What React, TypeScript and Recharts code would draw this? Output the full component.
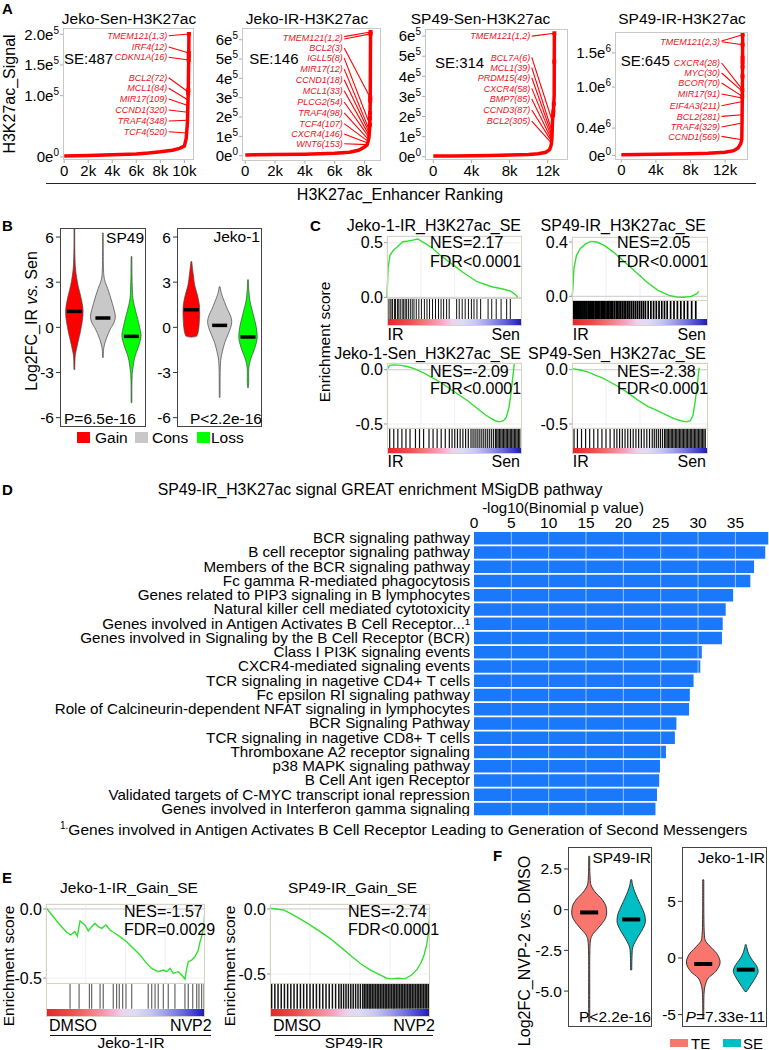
import React from 'react';
import {
  ComposedChart, LineChart, BarChart, ScatterChart, Line, Bar, Scatter,
  XAxis, YAxis, CartesianGrid, ReferenceLine,
} from 'recharts';

const FONT = '"Liberation Sans", Arial, Helvetica, sans-serif';
const RED = '#ff0000';
const LABEL_RED = '#e8141c';

// ---------- A: H3K27ac enhancer ranking (rank, signal) ----------
const jekoSenRank = [0, 2000, 4000, 6000, 7000, 8000, 9000, 9600, 10000, 10150, 10250, 10320, 10360, 10380];
const jekoSenSignal = [1500, 2500, 3500, 5000, 6500, 8500, 11000, 14000, 18000, 30000, 55000, 105000, 160000, 200000];
const jekoSenDotRank = [10380, 10365, 10362, 10359, 10323, 10319];
const jekoSenDotSignal = [200500, 169500, 164600, 158100, 109200, 104300];
const jekoSenGenes = ['TMEM121(1,3)', 'IRF4(12)', 'CDKN1A(16)', 'BCL2(72)', 'MCL1(84)', 'MIR17(109)', 'CCND1(320)', 'TRAF4(348)', 'TCF4(520)'];
const jekoSenGeneY = [197700, 179300, 162500, 129300, 112000, 94500, 76600, 58700, 41200];
const jekoSenLeadFrom = [197700, 179300, 162500, 129300, 112000, 94500, 76600, 58700, 41200];
const jekoSenLeadRank = [10380, 10365, 10359, 10321, 10303, 10291, 10275, 10257, 10186];
const jekoSenLeadSignal = [200500, 169500, 158100, 106000, 93000, 84000, 73000, 60000, 39000];

const jekoIrRank = [0, 2000, 4000, 6000, 7000, 7600, 8000, 8180, 8245, 8305, 8364, 8390, 8400, 8410];
const jekoIrSignal = [4000, 6000, 8000, 12000, 18000, 28000, 45000, 57000, 74000, 95000, 160000, 300000, 500000, 640000];
const jekoIrDotRank = [8410, 8405, 8390, 8387, 8375, 8370, 8364];
const jekoIrDotSignal = [640000, 630000, 300000, 285000, 220000, 195000, 160000];
const jekoIrGenes = ['TMEM121(1,2)', 'BCL2(3)', 'IGLL5(8)', 'MIR17(12)', 'CCND1(18)', 'MCL1(33)', 'PLCG2(54)', 'TRAF4(98)', 'TCF4(107)', 'CXCR4(146)', 'WNT6(153)'];
const jekoIrGeneY = [612000, 557000, 505000, 448000, 393000, 336000, 278000, 221000, 166000, 112000, 62000];
const jekoIrLeadFrom = [616000, 604000, 557000, 505000, 448000, 393000, 336000, 278000, 221000, 166000, 112000, 62000];
const jekoIrLeadRank = [8410, 8405, 8390, 8364, 8347, 8332, 8318, 8305, 8275, 8245, 8220, 8180];
const jekoIrLeadSignal = [640000, 630000, 300000, 160000, 129000, 117000, 105000, 95000, 83000, 74000, 66000, 57000];

const sp49SenRank = [0, 2000, 4000, 6000, 8000, 10000, 11000, 11800, 12200, 12350, 12420, 12460, 12500, 12600, 12680, 12700];
const sp49SenSignal = [3000, 4000, 5000, 6500, 8000, 11000, 15000, 22000, 35000, 55000, 75000, 110000, 175000, 230000, 300000, 614000];
const sp49SenDotRank = [12700, 12691, 12637, 12590, 12565];
const sp49SenDotSignal = [614000, 473000, 262000, 224000, 207000];
const sp49SenGenes = ['TMEM121(1,2)', 'BCL7A(6)', 'MCL1(39)', 'PRDM15(49)', 'CXCR4(58)', 'BMP7(85)', 'CCND3(87)', 'BCL2(305)'];
const sp49SenGeneY = [600000, 494000, 443000, 393000, 340000, 287000, 232000, 177000];
const sp49SenLeadFrom = [600000, 494000, 443000, 393000, 340000, 287000, 232000, 177000];
const sp49SenLeadRank = [12700, 12500, 12470, 12450, 12440, 12430, 12420, 12400];
const sp49SenLeadSignal = [614000, 174000, 124000, 108000, 95000, 83000, 75000, 67000];

const sp49IrRank = [0, 2000, 4000, 6000, 8000, 10000, 12000, 13000, 13500, 13800, 13930, 13960, 13985, 14000, 14020, 14030];
const sp49IrSignal = [8000, 12000, 16000, 20000, 25000, 32000, 45000, 70000, 110000, 170000, 228000, 474000, 790000, 950000, 1300000, 1767000];
const sp49IrDotRank = [14030, 14027, 14022, 14021, 14020, 14013, 14000, 13992];
const sp49IrDotSignal = [1767000, 1620000, 1430000, 1370000, 1300000, 1157000, 960000, 864000];
const sp49IrGenes = ['TMEM121(2,3)', 'CXCR4(28)', 'MYC(30)', 'BCOR(70)', 'MIR17(91)', 'EIF4A3(211)', 'BCL2(281)', 'TRAF4(329)', 'CCND1(569)'];
const sp49IrGeneY = [1669000, 1353000, 1206000, 1060000, 899000, 728000, 571000, 416000, 278000];
const sp49IrLeadFrom = [1675000, 1663000, 1353000, 1206000, 1060000, 899000, 728000, 571000, 416000, 278000];
const sp49IrLeadRank = [14030, 14027, 14000, 14000, 13992, 13990, 13987, 13976, 13962, 13935];
const sp49IrLeadSignal = [1767000, 1620000, 962000, 937000, 864000, 840000, 790000, 596000, 474000, 228000];

// ---------- B: log2FC IR vs Sen violins ----------
const bGroups = ['Gain', 'Cons', 'Loss'];
const bColors = ['#ff0000', '#c8c8c8', '#00ff00'];
const sp49GainV = [6.6, 5.5, 4.5, 3.8, 3.3, 2.8, 2.2, 1.6, 1.1, 0.6, 0.1, -0.4, -0.9, -1.3, -1.7, -2.1, -2.8];
const sp49GainW = [0.03, 0.03, 0.05, 0.1, 0.18, 0.28, 0.45, 0.6, 0.67, 0.64, 0.55, 0.44, 0.3, 0.2, 0.1, 0.05, 0.03];
const sp49ConsV = [6.27, 5, 4, 3.4, 3.0, 2.6, 2.1, 1.6, 1.1, 0.7, 0.3, 0, -0.4, -0.9, -1.3, -1.6, -2.0];
const sp49ConsW = [0.03, 0.03, 0.04, 0.08, 0.18, 0.36, 0.55, 0.72, 0.88, 0.96, 0.85, 0.64, 0.42, 0.2, 0.08, 0.04, 0.03];
const sp49LossV = [4.7, 3.5, 2.5, 1.8, 1.1, 0.5, 0.2, -0.2, -0.6, -1.1, -1.5, -1.8, -2.2, -2.6, -3.0, -3.3, -4.0, -5.0];
const sp49LossW = [0.03, 0.04, 0.07, 0.13, 0.32, 0.5, 0.58, 0.68, 0.74, 0.6, 0.45, 0.32, 0.2, 0.13, 0.07, 0.05, 0.03, 0.03];
const sp49Medians = [1.06, 0.62, -0.6];
const jekoGainV = [4.37, 4.0, 3.5, 2.8, 2.2, 1.6, 1.1, 0.5, 0.0, -0.4, -0.6, -0.65];
const jekoGainW = [0.03, 0.08, 0.15, 0.26, 0.45, 0.6, 0.64, 0.62, 0.58, 0.5, 0.38, 0.0];
const jekoConsV = [2.7, 2.2, 1.72, 1.2, 0.8, 0.4, 0, -0.48, -1.0, -1.6, -2.2, -3.0, -4.0, -4.65];
const jekoConsW = [0.03, 0.15, 0.36, 0.6, 0.82, 0.93, 0.85, 0.64, 0.4, 0.21, 0.08, 0.04, 0.03, 0.03];
const jekoLossV = [3.16, 2.5, 1.8, 1.28, 0.6, 0, -0.64, -1.1, -1.6, -2.0, -2.47, -3.0, -3.6, -4.0];
const jekoLossW = [0.03, 0.06, 0.14, 0.28, 0.48, 0.64, 0.71, 0.62, 0.43, 0.25, 0.1, 0.05, 0.06, 0.03];
const jekoMedians = [1.17, 0.13, -0.64];
const bTicks = [-6, -3, 0, 3, 6];
const bTickLabels = ['-6', '-3', '0', '3', '6'];

// ---------- C / E: GSEA running enrichment scores (rank %, ES) ----------
const jekoIrEsX = [0, 0.8, 2.2, 4.9, 7.7, 11.7, 15.8, 19.9, 22.7, 28.1, 33.6, 39.1, 47.3, 55.5, 66.4, 77.3, 85.5, 91.0, 95.1, 96.4];
const jekoIrEsY = [0, 0.266, 0.387, 0.433, 0.463, 0.509, 0.515, 0.525, 0.534, 0.494, 0.449, 0.387, 0.311, 0.234, 0.143, 0.097, 0.076, 0.058, 0.021, 0];
const jekoIrHits = [0.8, 2.2, 3.0, 4.1, 5.5, 6.3, 7.7, 8.7, 9.8, 11.2, 12.3, 13.4, 14.5, 15.8, 17.2, 18.6, 19.9, 21.6, 23.5, 25.4, 27.6, 29.5, 31.4, 33.6, 35.8, 38.0, 39.9, 41.8, 44.0, 45.9, 51.4, 53.3, 55.5, 57.7, 60.1, 62.3, 64.2, 66.4, 69.1, 74.6, 77.3, 80.6, 84.2, 88.3, 91.0];

const sp49IrEsX = [0, 0.5, 1.4, 3.3, 6.0, 10.1, 14.2, 18.3, 23.7, 30.5, 38.7, 46.9, 55.0, 63.2, 71.4, 76.8, 82.3, 87.7, 91.8, 93.2];
const sp49IrEsY = [0, 0.032, 0.204, 0.302, 0.351, 0.388, 0.405, 0.4, 0.375, 0.326, 0.253, 0.179, 0.106, 0.044, 0.007, -0.005, -0.007, 0, 0.02, 0.037];
const sp49IrHits = [0.5, 1.2, 2, 2.8, 3.5, 4.1, 5, 5.8, 6.5, 7.3, 8, 8.8, 9.5, 10.3, 11, 12, 12.8, 13.6, 14.5, 15.3, 16, 17, 18, 18.8, 19.6, 20.5, 21.5, 22.4, 23.2, 24, 25, 26, 27, 28, 29, 30, 31.2, 32.5, 33.5, 34.6, 35.8, 37, 38.3, 39.5, 40.8, 42, 43.5, 45, 46.5, 48, 49.5, 51, 52.5, 54, 56, 58, 60, 62, 64, 66, 68, 70, 72.5, 75, 77.5, 80, 82.5, 85, 88, 91];

const jekoSenEsX = [0, 2, 5, 10, 15, 20, 27, 33, 40, 47, 54, 60, 66, 72, 77, 80, 83, 86, 88, 90, 91.5, 93, 94];
const jekoSenEsY = [0, 0.04, 0.045, 0.04, 0.03, 0.01, -0.03, -0.07, -0.12, -0.18, -0.24, -0.29, -0.35, -0.41, -0.45, -0.47, -0.48, -0.47, -0.44, -0.35, -0.22, -0.05, 0.06];
const jekoSenHits = [2, 5, 8, 11, 14, 17, 21, 24, 27, 31, 34, 37, 40, 43, 46, 48, 50, 52, 54, 56, 58, 60, 62, 63.5, 65, 66.5, 68, 69.5, 71, 72.5, 74, 75.5, 77, 78.5, 80, 81, 82, 83, 84, 85, 86, 87, 88, 89, 90, 91, 92, 93, 94, 95, 96, 97, 98];

const sp49SenEsX = [0, 5, 11.5, 17, 22.4, 29, 36, 43, 49.6, 56, 63.2, 70, 75, 80, 84, 87, 89, 90.5, 92, 93.5];
const sp49SenEsY = [0.01, 0, -0.02, -0.05, -0.075, -0.12, -0.17, -0.23, -0.29, -0.34, -0.38, -0.42, -0.45, -0.47, -0.48, -0.47, -0.42, -0.3, -0.15, 0.02];
const sp49SenHits = [1.5, 4, 7, 10, 13, 16, 19, 22, 25, 28, 31, 33, 35, 37, 39, 41, 43, 45, 47, 49, 51, 53, 55, 57, 59, 60.5, 62, 63.5, 65, 66.5, 68, 69, 70, 71, 72, 73, 74, 75, 76, 77, 78, 79, 80, 81, 82, 83, 84, 85, 86, 87, 88, 89, 90, 91, 92, 93, 94, 95, 96, 97, 98];

const jekoGainEsX = [0, 0.4, 4.6, 8.8, 13.0, 15.5, 18.2, 19.7, 21.4, 24.5, 26.6, 28.7, 30.8, 32.9, 35.0, 37.7, 40.3, 43.4, 46.5, 50.7, 54.9, 59.1, 63.3, 66.5, 68.6, 70.6, 73.8, 75.9, 78.0, 80.1, 83.2, 85.3, 87.4, 88.5, 89.5, 91.6, 93.7, 95.8, 96.9, 97.9, 99.4, 100];
const jekoGainEsY = [0, 0.005, -0.056, -0.116, -0.169, -0.188, -0.164, -0.196, -0.087, -0.116, -0.159, -0.128, -0.104, -0.128, -0.14, -0.116, -0.152, -0.176, -0.2, -0.237, -0.285, -0.333, -0.394, -0.43, -0.442, -0.454, -0.442, -0.454, -0.43, -0.466, -0.454, -0.478, -0.507, -0.43, -0.382, -0.37, -0.346, -0.297, -0.237, -0.2, -0.116, 0.017];
const jekoGainHits = [15.1, 20.8, 27.3, 28.7, 34, 36, 42.3, 44.4, 46.1, 48.2, 50.3, 53.9, 64.3, 66.5, 68.6, 70.6, 73.8, 76.9, 81.1, 87.4, 89.5, 92.3, 94.8, 96.2, 97.9, 99.4];

const sp49GainEsX = [0, 0.4, 4.2, 8.3, 12.5, 18.8, 25, 31.3, 37.5, 43.8, 50, 56.3, 62.5, 68.8, 72.9, 76, 80.2, 84.4, 88.5, 91.7, 94.2, 96.3, 97.9, 99.2, 100];
const sp49GainEsY = [0, 0.005, 0, -0.008, -0.033, -0.077, -0.123, -0.174, -0.226, -0.29, -0.354, -0.418, -0.469, -0.508, -0.533, -0.538, -0.533, -0.538, -0.508, -0.469, -0.418, -0.354, -0.277, -0.174, 0.005];
const sp49GainHits = [1, 3, 5, 7, 9, 11, 13, 15, 17, 19, 21, 23, 25, 27, 29, 31, 33, 35, 37, 39, 41, 43, 44.5, 46, 47.5, 49, 50.5, 52, 53.5, 55, 56.5, 58, 59, 60, 61, 62, 63, 64, 65, 66, 67, 68, 69, 70, 71, 72, 73, 74, 75, 76, 77, 78, 79, 80, 81, 82, 83, 84, 85, 86, 87, 88, 89, 90, 91, 92, 93, 94, 95, 96, 97, 98, 99];

// ---------- D: GREAT MSigDB pathways ----------
const dPathways = [
  'BCR signaling pathway',
  'B cell receptor signaling pathway',
  'Members of the BCR signaling pathway',
  'Fc gamma R-mediated phagocytosis',
  'Genes related to PIP3 signaling in B lymphocytes',
  'Natural killer cell mediated cytotoxicity',
  'Genes involved in Antigen Activates B Cell Receptor...\u00b9',
  'Genes involved in Signaling by the B Cell Receptor (BCR)',
  'Class I PI3K signaling events',
  'CXCR4-mediated signaling events',
  'TCR signaling in nagetive CD4+ T cells',
  'Fc epsilon RI signaling pathway',
  'Role of Calcineurin-dependent NFAT signaling in lymphocytes',
  'BCR Signaling Pathway',
  'TCR signaling in nagetive CD8+ T cells',
  'Thromboxane A2 receptor signaling',
  'p38 MAPK signaling pathway',
  'B Cell Ant igen Receptor',
  'Validated targets of C-MYC transcript ional repression',
  'Genes involved in Interferon gamma signaling',
];
const dLog10P = [39.4, 39.0, 37.5, 37.0, 34.7, 33.7, 33.3, 33.2, 30.5, 30.3, 29.4, 28.9, 28.8, 27.1, 26.9, 25.7, 24.9, 24.8, 24.5, 24.3];
const dTicks = [0, 5, 10, 15, 20, 25, 30, 35];

// ---------- F: log2FC NVP-2 vs DMSO violins ----------
const fGroups = ['TE', 'SE'];
const fColors = ['#F8766D', '#00BFC4'];
const fSp49TeV = [3.28, 2.5, 2.0, 1.6, 1.33, 1.0, 0.72, 0.45, 0.2, -0.2, -0.5, -0.72, -1.0, -1.23, -1.45, -1.64, -2.0, -3.0, -5.0, -6.9];
const fSp49TeW = [0.03, 0.03, 0.05, 0.08, 0.18, 0.4, 0.67, 0.85, 0.96, 1.0, 0.94, 0.82, 0.62, 0.43, 0.25, 0.14, 0.06, 0.03, 0.03, 0.03];
const fSp49SeV = [1.84, 1.5, 1.13, 0.7, 0.31, 0, -0.31, -0.72, -1.0, -1.33, -1.65, -1.95, -2.36, -3.0, -3.7];
const fSp49SeW = [0.03, 0.08, 0.19, 0.36, 0.53, 0.66, 0.77, 0.81, 0.74, 0.58, 0.4, 0.24, 0.08, 0.04, 0.03];
const fSp49Medians = [-0.17, -0.6];
const fJekoTeV = [6.9, 5, 3, 2, 1.47, 0.88, 0.29, -0.44, -1.18, -1.77, -2.36, -3, -4, -5.3];
const fJekoTeW = [0.03, 0.03, 0.04, 0.07, 0.14, 0.48, 0.82, 0.96, 0.72, 0.29, 0.12, 0.05, 0.03, 0.03];
const fJekoSeV = [1.17, 0.8, 0.4, 0, -0.4, -0.74, -1.18, -1.55, -1.92, -2.5, -2.95];
const fJekoSeW = [0.03, 0.08, 0.16, 0.29, 0.48, 0.63, 0.71, 0.62, 0.48, 0.24, 0.05];
const fJekoMedians = [-0.53, -1.03];
const fSp49Ticks = [-5, -2.5, 0, 2.5];
const fSp49TickLabels = ['-5.0', '-2.5', '0', '2.5'];
const fJekoTicks = [-5, 0, 5];
const fJekoTickLabels = ['-5', '0', '5'];

// ---------- helpers ----------
function Txt({ x, y, anchor = 'start', size = 15.5, bold = false, italic = false, color = '#000', children }: any) {
  const tx = anchor === 'middle' ? '-50%' : anchor === 'end' ? '-100%' : '0';
  return (
    <div style={{
      position: 'absolute', left: x, top: y, transform: `translate(${tx}, -50%)`,
      fontSize: size, lineHeight: 1, whiteSpace: 'nowrap', fontWeight: bold ? 700 : 400,
      fontStyle: italic ? 'italic' : 'normal', color,
    }}>{children}</div>
  );
}

function VTxt({ x, y, size = 15.5, children }: any) {
  return (
    <div style={{
      position: 'absolute', left: x, top: y, transform: 'translate(-50%, -50%) rotate(-90deg)',
      fontSize: size, lineHeight: 1, whiteSpace: 'nowrap',
    }}>{children}</div>
  );
}

function SciTick({ x, y, payload, labels, ticks }: any) {
  const s = labels[ticks.indexOf(payload.value)] || '';
  const [base, exp] = s.split('e');
  return (
    <text x={x} y={y} textAnchor="end" fontSize={15} fill="#000">
      <tspan dy="0.35em">{base}e</tspan>
      <tspan dy="-0.6em" fontSize={10}>{exp}</tspan>
    </text>
  );
}

function RankPlot(p: any) {
  const yw = 52, xh = 26, mt = 14, mr = 16;
  const w = p.box.r - p.box.l, h = p.box.b - p.box.t;
  const curve = p.rank.map((x: number, i: number) => ({ x, y: p.signal[i] }));
  const dots = p.dotRank.map((x: number, i: number) => ({ x, y: p.dotSignal[i] }));
  const labels = p.genes.map((g: string, i: number) => ({ x: p.labelRank, y: p.geneY[i], g }));
  return (
    <div style={{ position: 'absolute', left: p.box.l - yw, top: p.box.t - mt }}>
      <ComposedChart width={yw + w + mr} height={mt + h + xh} margin={{ top: mt, right: mr, bottom: 0, left: 0 }}>
        <XAxis type="number" dataKey="x" domain={p.xDomain} ticks={p.xTicks} interval={0} allowDataOverflow
          height={xh} axisLine={false} tickSize={3} tickMargin={2} stroke="#aaa"
          tickFormatter={(v: number) => p.xLabels[p.xTicks.indexOf(v)]} tick={{ fontSize: 15, fill: '#000' }} />
        <YAxis type="number" dataKey="y" domain={p.yDomain} ticks={p.yTicks} interval={0} allowDataOverflow
          width={yw} axisLine={false} tickSize={3} tickMargin={1} stroke="#aaa"
          tick={(tp: any) => <SciTick {...tp} labels={p.yLabels} ticks={p.yTicks} />} />
        <Line data={curve} dataKey="y" type="linear" stroke={RED} strokeWidth={3.5} dot={false} isAnimationActive={false} />
        {p.leadFrom.map((fy: number, i: number) => (
          <ReferenceLine key={i} segment={[{ x: p.labelRank, y: fy }, { x: p.leadRank[i], y: p.leadSignal[i] }]}
            stroke={RED} strokeWidth={1.1} />
        ))}
        <Scatter data={dots} isAnimationActive={false}
          shape={(s: any) => <rect x={s.cx - 2} y={s.cy - 2} width={4} height={4} fill={RED} />} />
        <Scatter data={labels} isAnimationActive={false}
          shape={(s: any) => (
            <text x={s.cx - 1.5} y={s.cy} dy="0.35em" textAnchor="end" fontSize={9} fontStyle="italic" fill={LABEL_RED}>
              {s.payload.g}
            </text>
          )} />
      </ComposedChart>
      <div style={{ position: 'absolute', left: yw, top: mt, width: w, height: h, border: '1px solid #c8c8c8', boxSizing: 'border-box' }} />
    </div>
  );
}

function splinePath(p: number[][], start: string) {
  let d = `${start}${p[0][0].toFixed(2)},${p[0][1].toFixed(2)}`;
  for (let i = 0; i < p.length - 1; i++) {
    const p0 = p[i - 1] || p[i], p1 = p[i], p2 = p[i + 1], p3 = p[i + 2] || p2;
    const c1x = p1[0] + (p2[0] - p0[0]) / 6, c1y = p1[1] + (p2[1] - p0[1]) / 6;
    const c2x = p2[0] - (p3[0] - p1[0]) / 6, c2y = p2[1] - (p3[1] - p1[1]) / 6;
    d += ` C${c1x.toFixed(2)},${c1y.toFixed(2)} ${c2x.toFixed(2)},${c2y.toFixed(2)} ${p2[0].toFixed(2)},${p2[1].toFixed(2)}`;
  }
  return d;
}

function ViolinPanel(p: any) {
  const yw = p.yw, mt = 10;
  const data = p.groups.map((g: string, i: number) => ({
    g, range: [Math.min(...p.vals[i]), Math.max(...p.vals[i])],
    v: p.vals[i], w: p.wids[i], med: p.medians[i], color: p.colors[i],
  }));
  const shape = (s: any) => {
    const d = s.payload;
    const top0 = Math.min(s.y, s.y + s.height), h = Math.abs(s.height);
    const [lo, hi] = d.range;
    const toY = (v: number) => top0 + ((hi - v) / (hi - lo)) * h;
    const cx = s.x + s.width / 2;
    const left = d.v.map((v: number, i: number) => [cx - d.w[i] * p.maxHalf, toY(v)]);
    const right = d.v.map((v: number, i: number) => [cx + d.w[i] * p.maxHalf, toY(v)]).reverse();
    const path = splinePath(left, 'M') + ' L' + right[0][0] + ',' + right[0][1] + splinePath(right, ' L').replace(/^ L[^ ]+/, '') + ' Z';
    const my = toY(d.med);
    return (
      <g>
        <path d={path} fill={d.color} stroke={p.outline} strokeWidth={p.outlineW} />
        <rect x={cx - p.medW / 2} y={my - p.medH / 2} width={p.medW} height={p.medH} fill="#000" />
      </g>
    );
  };
  return (
    <div style={{ position: 'absolute', left: p.left - yw, top: p.top - mt }}>
      <BarChart width={yw + p.width} height={p.height + 2 * mt} data={data} margin={{ top: mt, right: 0, bottom: mt, left: 0 }}>
        <XAxis dataKey="g" type="category" hide />
        <YAxis type="number" domain={p.yDomain} ticks={p.yTicks} interval={0} allowDataOverflow width={yw}
          axisLine={false} tickSize={4} tickMargin={2} stroke="#333"
          tick={{ fontSize: 15.5, fill: '#000' }} tickFormatter={(v: number) => p.yLabels[p.yTicks.indexOf(v)]} />
        <Bar dataKey="range" shape={shape} isAnimationActive={false} />
      </BarChart>
      <div style={{ position: 'absolute', left: yw, top: mt, width: p.width, height: p.height, border: '1px solid #444', boxSizing: 'border-box' }} />
    </div>
  );
}

const GRADIENT = 'linear-gradient(to right, #e8262a 0%, #ee4a4c 15%, #f27c7e 28%, #f5a6c8 40%, #eed2ee 48%, #dcdcf6 56%, #c6c6f2 66%, #9c9ce8 76%, #6b6bdc 86%, #3a3acb 95%, #1c1cae 100%)';

function Gsea(p: any) {
  const yw = 40, mt = 10, mb = 10;
  const es = p.esX.map((x: number, i: number) => ({ x, y: p.esY[i] }));
  const hits = p.hits.map((x: number) => ({ x, y: 0.5 }));
  const total = p.esH + p.hitH + p.colH;
  return (
    <>
      <div style={{ position: 'absolute', left: p.left - yw, top: p.top - mt }}>
        <LineChart width={yw + p.width} height={mt + p.esH + mb} margin={{ top: mt, right: 0, bottom: mb, left: 0 }}>
          <CartesianGrid stroke="#efefef" />
          <XAxis type="number" dataKey="x" domain={[0, 100]} hide />
          <YAxis type="number" domain={p.yDomain} ticks={p.yTicks} interval={0} allowDataOverflow width={yw}
            axisLine={false} tickSize={3} tickMargin={1} stroke="#999"
            tick={{ fontSize: 16, fill: '#000' }} tickFormatter={(v: number) => v.toFixed(1)} />
          <ReferenceLine y={0} stroke="#cfcfcf" />
          <Line data={es} dataKey="y" type="linear" stroke="#30e030" strokeWidth={1.4} dot={false} isAnimationActive={false} />
        </LineChart>
      </div>
      <div style={{ position: 'absolute', left: p.left, top: p.top + p.esH, width: p.width, height: 1, background: '#d6d3c4' }} />
      <div style={{ position: 'absolute', left: p.left, top: p.top + p.esH }}>
        <ScatterChart width={p.width} height={p.hitH} margin={{ top: 0, right: 0, bottom: 0, left: 0 }}>
          <XAxis type="number" dataKey="x" domain={[0, 100]} hide />
          <YAxis type="number" dataKey="y" domain={[0, 1]} hide />
          <Scatter data={hits} isAnimationActive={false}
            shape={(s: any) => <line x1={s.cx} x2={s.cx} y1={1} y2={p.hitH} stroke={p.hitColor} strokeWidth={p.hitWidth} />} />
        </ScatterChart>
      </div>
      <div style={{ position: 'absolute', left: p.left + 1, top: p.top + p.esH + p.hitH, width: p.width - 2, height: p.colH, background: GRADIENT }} />
      <div style={{ position: 'absolute', left: p.left, top: p.top, width: p.width, height: total, border: '1px solid #d6d3c4', boxSizing: 'border-box' }} />
    </>
  );
}

const dData = dPathways.map((name, i) => ({ name, value: dLog10P[i] }));

export default function App() {
  const vs = <span style={{ fontStyle: 'italic' }}>vs.</span>;
  return (
    <div style={{ position: 'absolute', left: 0, top: 0, width: 769, height: 1050, background: '#fff', fontFamily: FONT, color: '#000', overflow: 'hidden' }}>
      {/* ---------------- A ---------------- */}
      <Txt x={2} y={8} size={15} bold>A</Txt>
      <Txt x={129} y={19} anchor="middle">Jeko-Sen-H3K27ac</Txt>
      <Txt x={307} y={19} anchor="middle">Jeko-IR-H3K27ac</Txt>
      <Txt x={480.5} y={19} anchor="middle">SP49-Sen-H3K27ac</Txt>
      <Txt x={682} y={19} anchor="middle">SP49-IR-H3K27ac</Txt>
      <VTxt x={10} y={94} size={16}>H3K27ac_Signal</VTxt>

      <RankPlot box={{ l: 63, t: 28, r: 194, b: 160 }} xDomain={[-100, 10800]} yDomain={[-4900, 210300]}
        xTicks={[0, 2000, 4000, 6000, 8000, 10000]} xLabels={['0', '2k', '4k', '6k', '8k', '10k']}
        yTicks={[0, 100000, 150000, 200000]} yLabels={['0e0', '1.0e5', '1.5e5', '2.0e5']}
        rank={jekoSenRank} signal={jekoSenSignal} dotRank={jekoSenDotRank} dotSignal={jekoSenDotSignal}
        genes={jekoSenGenes} geneY={jekoSenGeneY} labelRank={8700}
        leadFrom={jekoSenLeadFrom} leadRank={jekoSenLeadRank} leadSignal={jekoSenLeadSignal} />
      <RankPlot box={{ l: 241.7, t: 28.3, r: 381, b: 161 }} xDomain={[-220, 9130]} yDomain={[-25900, 660600]}
        xTicks={[0, 2000, 4000, 6000, 8000]} xLabels={['0', '2k', '4k', '6k', '8k']}
        yTicks={[0, 100000, 200000, 300000, 400000, 500000, 600000]} yLabels={['0e0', '1e5', '2e5', '3e5', '4e5', '5e5', '6e5']}
        rank={jekoIrRank} signal={jekoIrSignal} dotRank={jekoIrDotRank} dotSignal={jekoIrDotSignal}
        genes={jekoIrGenes} geneY={jekoIrGeneY} labelRank={6640}
        leadFrom={jekoIrLeadFrom} leadRank={jekoIrLeadRank} leadSignal={jekoIrLeadSignal} />
      <RankPlot box={{ l: 425, t: 29, r: 568, b: 160 }} xDomain={[-870, 14130]} yDomain={[-16400, 635300]}
        xTicks={[0, 4000, 8000, 12000]} xLabels={['0', '4k', '8k', '12k']}
        yTicks={[0, 100000, 200000, 300000, 400000, 500000, 600000]} yLabels={['0e0', '1e5', '2e5', '3e5', '4e5', '5e5', '6e5']}
        rank={sp49SenRank} signal={sp49SenSignal} dotRank={sp49SenDotRank} dotSignal={sp49SenDotSignal}
        genes={sp49SenGenes} geneY={sp49SenGeneY} labelRank={10330}
        leadFrom={sp49SenLeadFrom} leadRank={sp49SenLeadRank} leadSignal={sp49SenLeadSignal} />
      <RankPlot box={{ l: 615, t: 32.3, r: 748, b: 160 }} xDomain={[-730, 14650]} yDomain={[-63000, 1806700]}
        xTicks={[0, 4000, 8000, 12000]} xLabels={['0', '4k', '8k', '12k']}
        yTicks={[0, 400000, 1000000, 1500000]} yLabels={['0e0', '0.4e6', '1.0e6', '1.5e6']}
        rank={sp49IrRank} signal={sp49IrSignal} dotRank={sp49IrDotRank} dotSignal={sp49IrDotSignal}
        genes={sp49IrGenes} geneY={sp49IrGeneY} labelRank={11600}
        leadFrom={sp49IrLeadFrom} leadRank={sp49IrLeadRank} leadSignal={sp49IrLeadSignal} />

      <Txt x={64} y={58.3} size={15}>SE:487</Txt>
      <Txt x={249.3} y={58.3} size={15}>SE:146</Txt>
      <Txt x={435} y={61.7} size={15}>SE:314</Txt>
      <Txt x={620.7} y={60} size={15}>SE:645</Txt>
      <div style={{ position: 'absolute', left: 46, top: 182.5, width: 710, height: 1.6, background: '#222' }} />
      <Txt x={400} y={195} anchor="middle" size={16}>H3K27ac_Enhancer Ranking</Txt>

      {/* ---------------- B ---------------- */}
      <Txt x={2} y={225} size={15} bold>B</Txt>
      <VTxt x={31.7} y={321} size={16}>Log2FC_IR {vs} Sen</VTxt>
      <ViolinPanel left={60} top={228.3} width={85.7} height={198.7} yw={40} yDomain={[-6.6, 6.6]}
        yTicks={bTicks} yLabels={bTickLabels} groups={bGroups} colors={bColors}
        vals={[sp49GainV, sp49ConsV, sp49LossV]} wids={[sp49GainW, sp49ConsW, sp49LossW]} medians={sp49Medians}
        maxHalf={13} medW={15} medH={3.5} outline="#444" outlineW={0.7} />
      <ViolinPanel left={176.7} top={228.3} width={85} height={198.7} yw={40} yDomain={[-6.6, 6.6]}
        yTicks={bTicks} yLabels={bTickLabels} groups={bGroups} colors={bColors}
        vals={[jekoGainV, jekoConsV, jekoLossV]} wids={[jekoGainW, jekoConsW, jekoLossW]} medians={jekoMedians}
        maxHalf={13} medW={15} medH={3.5} outline="#444" outlineW={0.7} />
      <Txt x={144} y={238} anchor="end">SP49</Txt>
      <Txt x={260} y={237} anchor="end">Jeko-1</Txt>
      <Txt x={100} y={419} anchor="middle">P=6.5e-16</Txt>
      <Txt x={226} y={419} anchor="middle">P&lt;2.2e-16</Txt>
      <div style={{ position: 'absolute', left: 77, top: 432, width: 13, height: 11, background: '#ff0000' }} />
      <Txt x={95} y={438}>Gain</Txt>
      <div style={{ position: 'absolute', left: 135, top: 432, width: 13, height: 11, background: '#c8c8c8' }} />
      <Txt x={152} y={438}>Cons</Txt>
      <div style={{ position: 'absolute', left: 197, top: 432, width: 13, height: 11, background: '#00ff00' }} />
      <Txt x={211} y={438}>Loss</Txt>

      {/* ---------------- C ---------------- */}
      <Txt x={310} y={225} size={15} bold>C</Txt>
      <Txt x={521} y={225.7} anchor="end" size={16}>Jeko-1-IR_H3K27ac_SE</Txt>
      <Txt x={706} y={225.7} anchor="end" size={16}>SP49-IR_H3K27ac_SE</Txt>
      <Txt x={521} y={354} anchor="end" size={16}>Jeko-1-Sen_H3K27ac_SE</Txt>
      <Txt x={706} y={354} anchor="end" size={16}>SP49-Sen_H3K27ac_SE</Txt>
      <VTxt x={324.7} y={341.7} size={15.5}>Enrichment score</VTxt>

      <Gsea left={386.5} top={236} width={135.5} esH={62} hitH={21} colH={6.7} yDomain={[-0.006, 0.561]} yTicks={[0, 0.5]}
        esX={jekoIrEsX} esY={jekoIrEsY} hits={jekoIrHits} hitColor="#111" hitWidth={1} />
      <Gsea left={572} top={236.7} width={136} esH={63.3} hitH={19.3} colH={6.4} yDomain={[-0.029, 0.437]} yTicks={[0, 0.4]}
        esX={sp49IrEsX} esY={sp49IrEsY} hits={sp49IrHits} hitColor="#000" hitWidth={1.7} />
      <Gsea left={386.5} top={363.3} width={135.5} esH={64.7} hitH={20} colH={6} yDomain={[-0.534, 0.062]} yTicks={[-0.5, 0]}
        esX={jekoSenEsX} esY={jekoSenEsY} hits={jekoSenHits} hitColor="#111" hitWidth={1.2} />
      <Gsea left={572} top={363.3} width={136} esH={64.7} hitH={20} colH={6} yDomain={[-0.534, 0.062]} yTicks={[-0.5, 0]}
        esX={sp49SenEsX} esY={sp49SenEsY} hits={sp49SenHits} hitColor="#111" hitWidth={1.2} />

      <Txt x={430} y={243.3} size={16}>NES=2.17</Txt>
      <Txt x={430} y={261.7} size={16}>FDR&lt;0.0001</Txt>
      <Txt x={617} y={243.3} size={16}>NES=2.05</Txt>
      <Txt x={617} y={261.7} size={16}>FDR&lt;0.0001</Txt>
      <Txt x={430} y={371.7} size={16}>NES=-2.09</Txt>
      <Txt x={430} y={389.3} size={16}>FDR&lt;0.0001</Txt>
      <Txt x={617} y={371.7} size={16}>NES=-2.38</Txt>
      <Txt x={617} y={389.3} size={16}>FDR&lt;0.0001</Txt>
      <Txt x={387.6} y={335} size={16}>IR</Txt>
      <Txt x={520} y={335} anchor="end" size={16}>Sen</Txt>
      <Txt x={572.8} y={335} size={16}>IR</Txt>
      <Txt x={706} y={335} anchor="end" size={16}>Sen</Txt>
      <Txt x={387.6} y={461.7} size={16}>IR</Txt>
      <Txt x={520} y={461.7} anchor="end" size={16}>Sen</Txt>
      <Txt x={572.8} y={461.7} size={16}>IR</Txt>
      <Txt x={706} y={461.7} anchor="end" size={16}>Sen</Txt>

      {/* ---------------- D ---------------- */}
      <Txt x={2} y={489} size={15} bold>D</Txt>
      <Txt x={380} y={489.5} anchor="middle" size={15.8}>SP49-IR_H3K27ac signal GREAT enrichment MSigDB pathway</Txt>
      <Txt x={563} y={506.5} anchor="middle" size={15}>-log10(Binomial p value)</Txt>
      <div style={{ position: 'absolute', left: 10, top: 511.2 }}>
        <BarChart layout="vertical" width={759} height={305} data={dData} margin={{ top: 0, right: 0, bottom: 0, left: 0 }} barSize={12.5}>
          <XAxis type="number" orientation="top" domain={[0, 39.5]} ticks={dTicks} interval={0} allowDataOverflow
            height={20} axisLine={false} tickLine={false} tickSize={0} tickMargin={3} tick={{ fontSize: 15.5, fill: '#000' }} />
          <YAxis type="category" dataKey="name" width={464} axisLine={false} tickLine={false} tickSize={0} interval={0}
            tick={(tp: any) => (
              <text transform={`translate(${tp.x - 2},${tp.y}) scale(1.07,1)`} dy="0.35em" textAnchor="end" fontSize={14.2} fill="#000">
                {tp.payload.value}
              </text>
            )} />
          <Bar dataKey="value" fill="#1a78fa" isAnimationActive={false} />
          {dTicks.slice(1).map((t) => <ReferenceLine key={t} x={t} stroke="#ffffff" strokeOpacity={0.55} />)}
        </BarChart>
      </div>
      <Txt x={60} y={829} size={15.5}><sup style={{ fontSize: 10 }}>1.</sup>Genes involved in Antigen Activates B Cell Receptor Leading to Generation of Second Messengers</Txt>

      {/* ---------------- E ---------------- */}
      <Txt x={2} y={877} size={15} bold>E</Txt>
      <Txt x={129} y={888} anchor="middle">Jeko-1-IR_Gain_SE</Txt>
      <Txt x={352.5} y={888} anchor="middle">SP49-IR_Gain_SE</Txt>
      <VTxt x={9} y={966} size={15.5}>Enrichment score</VTxt>
      <VTxt x={230} y={966} size={15.5}>Enrichment score</VTxt>
      <Gsea left={46} top={904} width={159} esH={79.3} hitH={25.7} colH={7.7} yDomain={[-0.538, 0.036]} yTicks={[-0.5, 0]}
        esX={jekoGainEsX} esY={jekoGainEsY} hits={jekoGainHits} hitColor="#666" hitWidth={1.2} />
      <Gsea left={270} top={904} width={160} esH={79.3} hitH={25.7} colH={7.7} yDomain={[-0.572, 0.038]} yTicks={[-0.5, 0]}
        esX={sp49GainEsX} esY={sp49GainEsY} hits={sp49GainHits} hitColor="#111" hitWidth={1.5} />
      <Txt x={124} y={912} size={16}>NES=-1.57</Txt>
      <Txt x={124} y={930} size={16}>FDR=0.0029</Txt>
      <Txt x={348} y={912} size={16}>NES=-2.74</Txt>
      <Txt x={348} y={930} size={16}>FDR&lt;0.0001</Txt>
      <Txt x={49} y={1026} size={16}>DMSO</Txt>
      <Txt x={211.7} y={1026} anchor="end" size={16}>NVP2</Txt>
      <Txt x={273} y={1026} size={16}>DMSO</Txt>
      <Txt x={435} y={1026} anchor="end" size={16}>NVP2</Txt>
      <div style={{ position: 'absolute', left: 50, top: 1034.5, width: 161, height: 1.5, background: '#111' }} />
      <div style={{ position: 'absolute', left: 275, top: 1034.5, width: 158, height: 1.5, background: '#111' }} />
      <Txt x={131} y={1042.5} anchor="middle" size={15.5}>Jeko-1-IR</Txt>
      <Txt x={354} y={1042.5} anchor="middle" size={15.5}>SP49-IR</Txt>

      {/* ---------------- F ---------------- */}
      <Txt x={493} y={855} size={15} bold>F</Txt>
      <VTxt x={525} y={951} size={16}>Log2FC_NVP-2 {vs} DMSO</VTxt>
      <ViolinPanel left={568.3} top={847.3} width={84} height={179.4} yw={40} yDomain={[-7.17, 3.85]}
        yTicks={fSp49Ticks} yLabels={fSp49TickLabels} groups={fGroups} colors={fColors}
        vals={[fSp49TeV, fSp49SeV]} wids={[fSp49TeW, fSp49SeW]} medians={fSp49Medians}
        maxHalf={17.5} medW={18} medH={4} outline="#333" outlineW={1} />
      <ViolinPanel left={681.7} top={847.3} width={85} height={179.4} yw={30} yDomain={[-6.04, 9.8]}
        yTicks={fJekoTicks} yLabels={fJekoTickLabels} groups={fGroups} colors={fColors}
        vals={[fJekoTeV, fJekoSeV]} wids={[fJekoTeW, fJekoSeW]} medians={fJekoMedians}
        maxHalf={17.5} medW={18} medH={4} outline="#333" outlineW={1} />
      <Txt x={651} y={858.3} anchor="end">SP49-IR</Txt>
      <Txt x={765} y={858.3} anchor="end">Jeko-1-IR</Txt>
      <Txt x={651} y={1016.7} anchor="end">P&lt;2.2e-16</Txt>
      <Txt x={765} y={1016.7} anchor="end"><span style={{ fontStyle: 'italic' }}>P</span>=7.33e-11</Txt>
      <div style={{ position: 'absolute', left: 670, top: 1038.5, width: 18, height: 8, background: '#F8766D' }} />
      <Txt x={691} y={1042.5} size={15}>TE</Txt>
      <div style={{ position: 'absolute', left: 723, top: 1038.5, width: 18, height: 8, background: '#00BFC4' }} />
      <Txt x={743} y={1042.5} size={15}>SE</Txt>
    </div>
  );
}
